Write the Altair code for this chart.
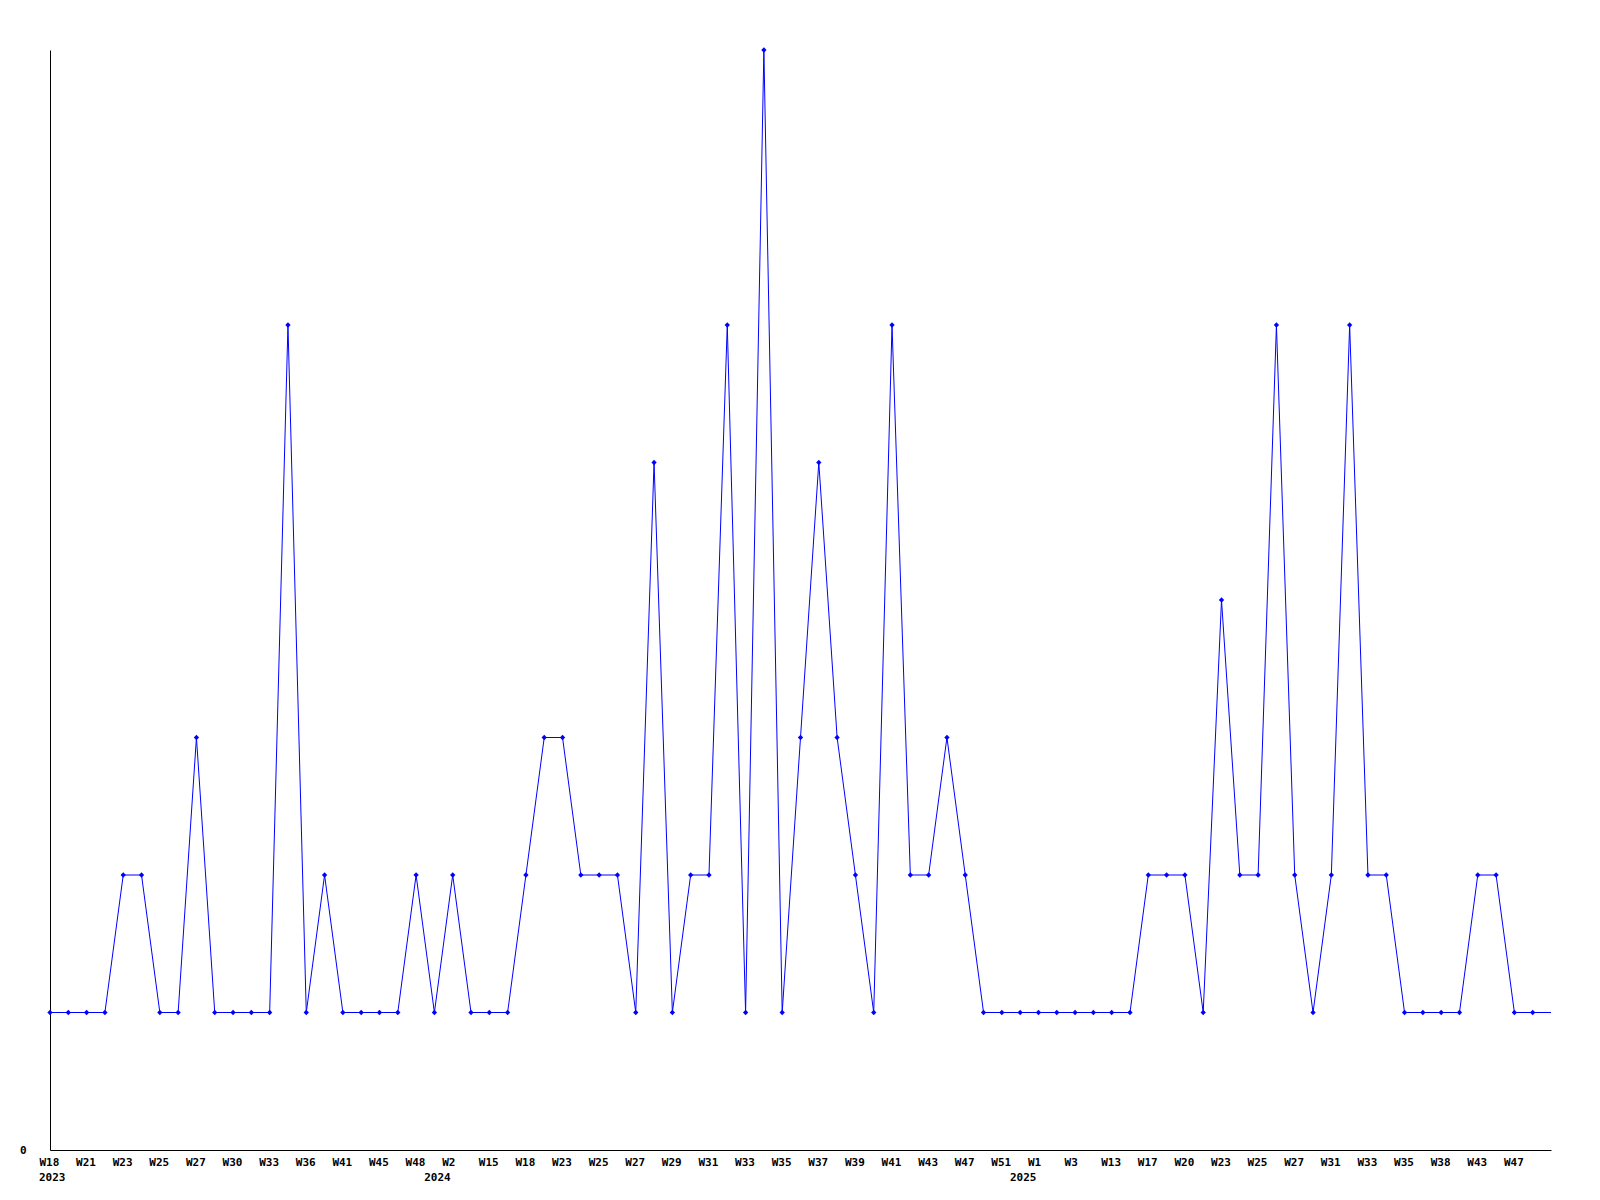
import altair as alt
import pandas as pd

# week keys (year-week) in plotted order
weeks = [
    "2023-W18", "2023-W20", "2023-W21", "2023-W22", "2023-W23", "2023-W24", "2023-W25", "2023-W26",
    "2023-W27", "2023-W29", "2023-W30", "2023-W32", "2023-W33", "2023-W34", "2023-W36", "2023-W38",
    "2023-W41", "2023-W43", "2023-W45", "2023-W47", "2023-W48", "2023-W52",
    "2024-W2", "2024-W10", "2024-W15", "2024-W17", "2024-W18", "2024-W21", "2024-W23", "2024-W24",
    "2024-W25", "2024-W26", "2024-W27", "2024-W28", "2024-W29", "2024-W30", "2024-W31", "2024-W32",
    "2024-W33", "2024-W34", "2024-W35", "2024-W36", "2024-W37", "2024-W38", "2024-W39", "2024-W40",
    "2024-W41", "2024-W42", "2024-W43", "2024-W45", "2024-W47", "2024-W49", "2024-W51", "2024-W52",
    "2025-W1", "2025-W2", "2025-W3", "2025-W8", "2025-W13", "2025-W15", "2025-W17", "2025-W18",
    "2025-W20", "2025-W22", "2025-W23", "2025-W24", "2025-W25", "2025-W26", "2025-W27", "2025-W29",
    "2025-W31", "2025-W32", "2025-W33", "2025-W34", "2025-W35", "2025-W36", "2025-W38", "2025-W40",
    "2025-W43", "2025-W45", "2025-W47", "2025-W48", "2025-W49",
]
counts = [
    1, 1, 1, 1, 2, 2, 1, 1,
    3, 1, 1, 1, 1, 6, 1, 2,
    1, 1, 1, 1, 2, 1,
    2, 1, 1, 1, 2, 3, 3, 2,
    2, 2, 1, 5, 1, 2, 2, 6,
    1, 8, 1, 3, 5, 3, 2, 1,
    6, 2, 2, 3, 2, 1, 1, 1,
    1, 1, 1, 1, 1, 1, 2, 2,
    2, 1, 4, 2, 2, 6, 2, 1,
    2, 6, 2, 2, 1, 1, 1, 1,
    2, 2, 1, 1, 1,
]
# weeks that carry a tick label (every other point)
labeled_weeks = weeks[0:81:2]
# year captions under the first labelled week of each year
year_weeks = ["2023-W18", "2024-W2", "2025-W1"]
year_text = ["2023", "2024", "2025"]

df = pd.DataFrame({"week": weeks, "count": counts, "idx": list(range(len(weeks)))})
ydf = pd.DataFrame({"week": year_weeks, "year": year_text, "n": list(range(len(year_weeks)))})

FONT = "DejaVu Sans Mono"
W, H = 1501, 1100
BLUE = "#0000ff"

xenc = alt.X(
    "week:O", sort=weeks, title=None,
    scale=alt.Scale(padding=0, domain=weeks),
    axis=alt.Axis(
        values=labeled_weeks, labelExpr="split(datum.value, '-')[1]",
        labelAngle=0, labelAlign="left", labelOffset=-11, labelPadding=6,
        labelBaseline="top", ticks=False, domainColor="black",
        labelFont=FONT, labelFontWeight="bold", labelFontSize=11, labelColor="black",
        labelOverlap=False, grid=False,
    ),
)
yenc = alt.Y(
    "count:Q", title=None,
    scale=alt.Scale(domain=[0, 8], nice=False, zero=True),
    axis=alt.Axis(
        values=[0], format="d", ticks=False, grid=False, domainColor="black",
        labelFont=FONT, labelFontWeight="bold", labelFontSize=11, labelColor="black",
        labelPadding=24,
    ),
)

base = alt.Chart(df)
line = base.mark_line(color=BLUE, strokeWidth=1).encode(x=xenc, y=yenc)
pts = base.transform_filter(alt.datum.idx < len(weeks) - 1).mark_point(
    shape="diamond", filled=True, color=BLUE, size=28, opacity=1
).encode(x=alt.X("week:O", sort=weeks), y="count:Q")

yr_first = alt.Chart(ydf).transform_filter(alt.datum.n == 0).mark_text(
    align="left", baseline="top", dx=-11, font=FONT, fontWeight="bold", fontSize=11, color="black"
).encode(x=alt.X("week:O", sort=weeks), y=alt.value(H + 22), text="year:N")
yr_rest = alt.Chart(ydf).transform_filter(alt.datum.n > 0).mark_text(
    align="right", baseline="top", dx=-2, font=FONT, fontWeight="bold", fontSize=11, color="black"
).encode(x=alt.X("week:O", sort=weeks), y=alt.value(H + 22), text="year:N")

chart = alt.layer(line, pts, yr_first, yr_rest).properties(
    width=W, height=H, autosize="none",
    padding={"left": 42, "top": 42, "right": 40, "bottom": 40},
).configure(background="white").configure_view(stroke=None, strokeWidth=0)

chart.save("out.html", embed_options={"renderer": "svg", "actions": False})
